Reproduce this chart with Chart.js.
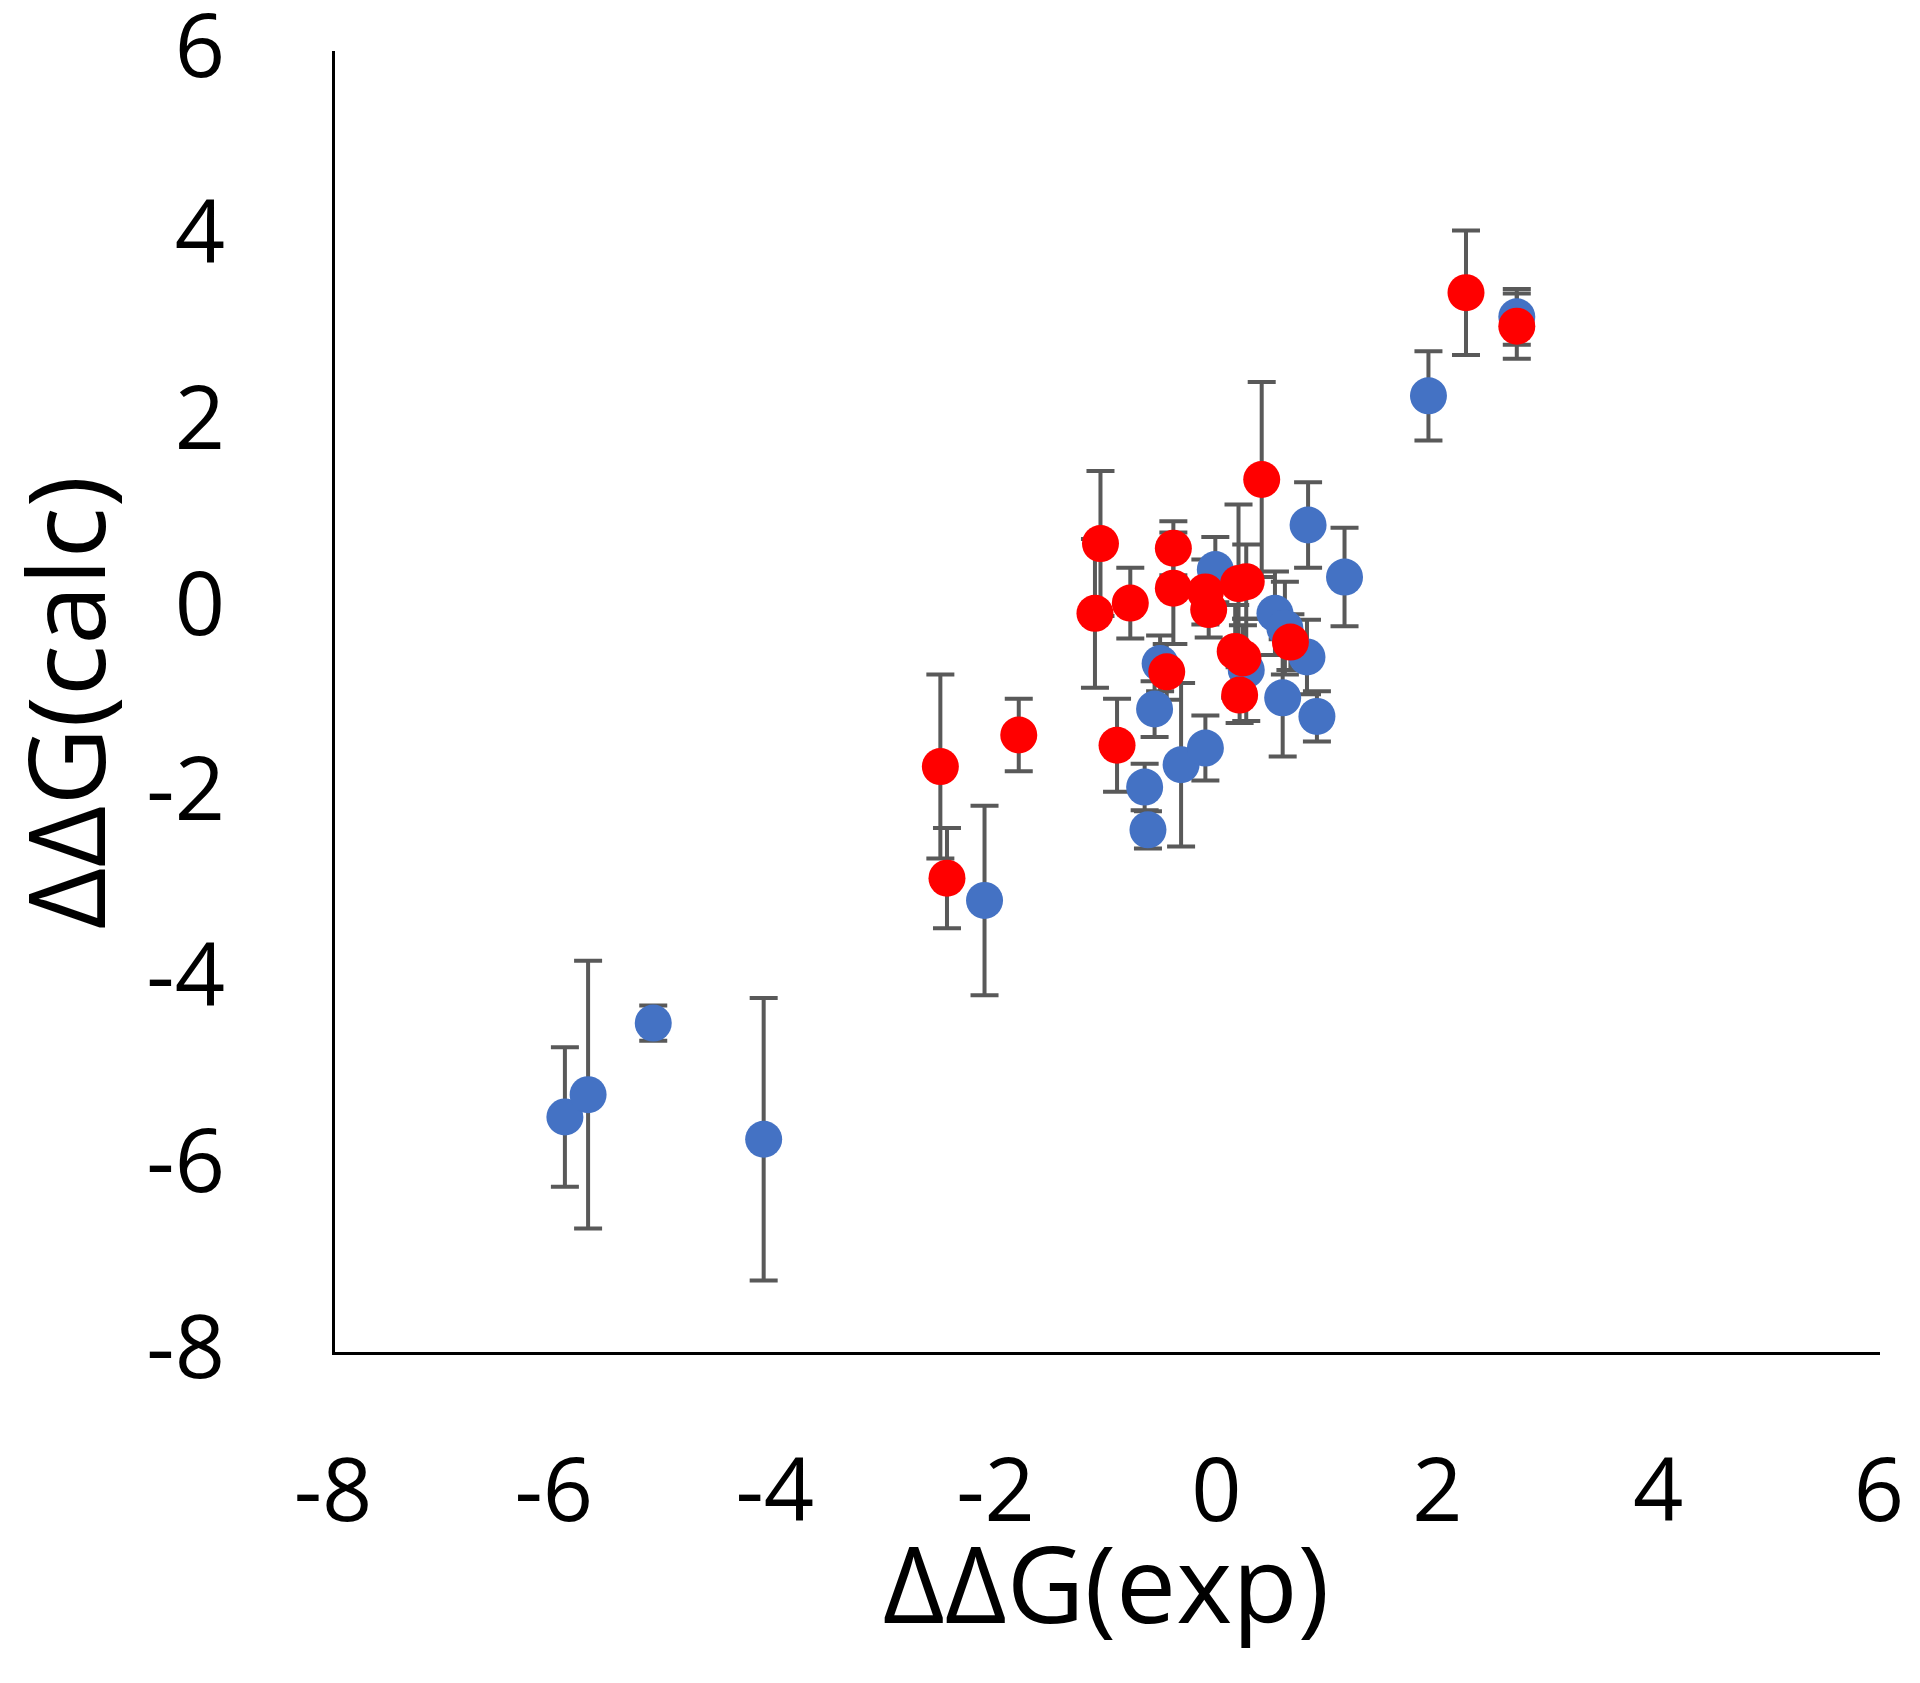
<!DOCTYPE html>
<html>
<head>
<meta charset="utf-8">
<script src="https://cdn.jsdelivr.net/npm/chart.js@4.4.1/dist/chart.umd.min.js"></script>
<style>
  html, body { margin: 0; padding: 0; background: #ffffff; }
  #wrap { width: 1920px; height: 1683px; }
</style>
</head>
<body>
<div id="wrap"><canvas id="scatter" width="1920" height="1683"></canvas></div>
<script>
// tick values of both axes
var tickValues = [-8, -6, -4, -2, 0, 2, 4, 6];

// red series
var redX   = [-1.05, -1.10, -0.78, -0.39, -0.39, -0.10, -0.07, 0.20, 0.27, 0.41, 0.67, 0.17, 0.24, 0.21, -0.45, -0.90, -2.50, -1.79, -2.44, 2.26, 2.72];
var redY   = [0.71, -0.04, 0.07, 0.66, 0.23, 0.19, 0.00, 0.28, 0.30, 1.40, -0.35, -0.45, -0.52, -0.92, -0.67, -1.46, -1.69, -1.35, -2.89, 3.41, 3.05];
var redErr = [0.78, 0.80, 0.38, 0.29, 0.60, 0.35, 0.30, 0.85, 0.40, 1.05, 0.30, 0.50, 0.35, 0.30, 0.30, 0.50, 0.99, 0.39, 0.54, 0.67, 0.35];

// blue series
var blueX   = [-5.90, -5.69, -5.10, -4.10, -2.10, -0.62, -0.65, -0.32, -0.10, -0.56, -0.51, -0.01, 0.27, 0.53, 0.62, 0.82, 0.60, 0.91, 0.83, 1.16, 1.92, 2.72];
var blueY   = [-5.46, -5.22, -4.45, -5.70, -3.13, -2.37, -1.91, -1.67, -1.49, -1.07, -0.58, 0.43, -0.65, -0.04, -0.20, -0.51, -0.95, -1.15, 0.91, 0.35, 2.30, 3.15];
var blueErr = [0.75, 1.44, 0.19, 1.52, 1.02, 0.20, 0.25, 0.88, 0.35, 0.30, 0.30, 0.35, 0.55, 0.45, 0.50, 0.40, 0.63, 0.27, 0.46, 0.53, 0.48, 0.30];

function makePoints(xs, ys, errs) {
    var pts = [];
    for (var i = 0; i < xs.length; i++) pts.push({ x: xs[i], y: ys[i], err: errs[i] });
    return pts;
}

var errorBars = {
    id: 'errorBars',
    beforeDatasetsDraw: function (chart) {
        var ctx = chart.ctx;
        var sx = chart.scales.x, sy = chart.scales.y;
        var cap = 14;
        ctx.save();
        ctx.strokeStyle = '#595959';
        ctx.lineWidth = 4;
        for (var d = chart.data.datasets.length - 1; d >= 0; d--) {
            chart.data.datasets[d].data.forEach(function (p) {
                var px = sx.getPixelForValue(p.x);
                var top = sy.getPixelForValue(p.y + p.err);
                var bot = sy.getPixelForValue(p.y - p.err);
                ctx.beginPath();
                ctx.moveTo(px, top); ctx.lineTo(px, bot);
                ctx.moveTo(px - cap, top); ctx.lineTo(px + cap, top);
                ctx.moveTo(px - cap, bot); ctx.lineTo(px + cap, bot);
                ctx.stroke();
            });
        }
        ctx.restore();
    }
};

var tickFont = { family: "'Open Sans', 'Noto Sans', sans-serif", size: 88 };
var titleFont = { family: "'Open Sans', 'Noto Sans', sans-serif", size: 107 };

new Chart(document.getElementById('scatter'), {
    type: 'scatter',
    data: {
        datasets: [
            { label: 'red', data: makePoints(redX, redY, redErr), backgroundColor: '#FF0000', borderWidth: 0, pointRadius: 18.5, pointHoverRadius: 18.5 },
            { label: 'blue', data: makePoints(blueX, blueY, blueErr), backgroundColor: '#4472C4', borderWidth: 0, pointRadius: 18.5, pointHoverRadius: 18.5 }
        ]
    },
    options: {
        responsive: false,
        animation: false,
        events: [],
        layout: { padding: { left: 0, right: 41, top: 52, bottom: 0 } },
        plugins: { legend: { display: false }, tooltip: { enabled: false } },
        scales: {
            x: {
                type: 'linear', min: -8, max: 6,
                afterBuildTicks: function (s) { s.ticks = tickValues.map(function (v) { return { value: v }; }); },
                afterFit: function (s) { s.height = 330; s.paddingLeft = 0; s.paddingRight = 0; },
                grid: { display: false },
                border: { display: true, color: '#000000', width: 3 },
                ticks: { color: '#000000', font: tickFont, padding: 82, maxRotation: 0, autoSkip: false },
                title: { display: true, text: 'ΔΔG(exp)', color: '#000000', font: titleFont, padding: { top: 26, bottom: 26 } }
            },
            y: {
                type: 'linear', min: -8, max: 6,
                afterBuildTicks: function (s) { s.ticks = tickValues.map(function (v) { return { value: v }; }); },
                afterFit: function (s) { s.width = 333; s.paddingTop = 0; s.paddingBottom = 0; },
                grid: { display: false },
                border: { display: true, color: '#000000', width: 3 },
                ticks: { color: '#000000', font: tickFont, padding: 100, autoSkip: false },
                title: { display: true, text: 'ΔΔG(calc)', color: '#000000', font: titleFont, padding: { top: 10, bottom: 10 } }
            }
        }
    },
    plugins: [errorBars]
});
</script>
</body>
</html>
